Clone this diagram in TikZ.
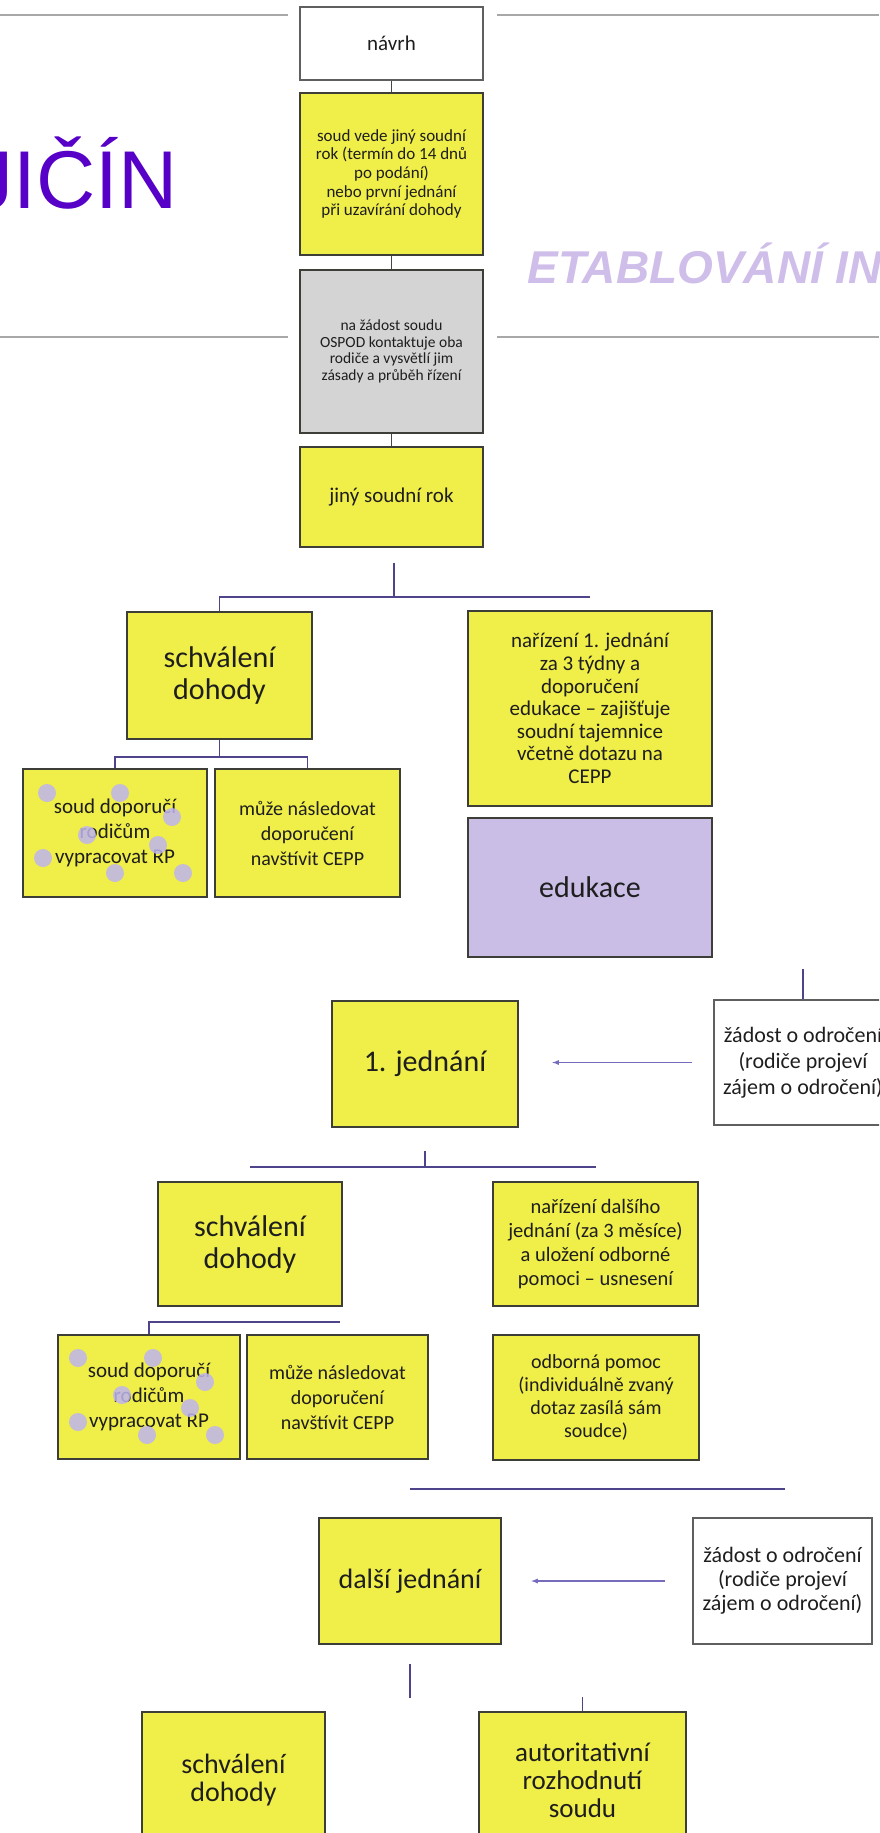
\documentclass[tikz,border=0pt]{standalone}
\usepackage{fontspec}
\setmainfont{Carlito}
\newfontfamily\headfont{Liberation Sans}
\usetikzlibrary{arrows}

\begin{document}
\begin{tikzpicture}[x=1pt,y=1pt,yscale=-1,xscale=1,
  box/.style={draw={rgb, 255:red, 62; green, 62; blue, 56 }, line width=2.4pt, align=center, inner sep=0pt, text={rgb, 255:red, 30; green, 30; blue, 30 }},
  ybox/.style={box, fill={rgb, 255:red, 240; green, 238; blue, 72 }},
  wbox/.style={box, fill=white, line width=1.4pt, draw={rgb, 255:red, 95; green, 95; blue, 95 }},
  gbox/.style={box, fill={rgb, 255:red, 212; green, 212; blue, 212 }},
  pbox/.style={box, fill={rgb, 255:red, 202; green, 190; blue, 230 }},
  size/.style 2 args={minimum width=#1pt, minimum height=#2pt},
  link/.style={draw={rgb, 255:red, 70; green, 70; blue, 70 }, line width=1.2pt},
  tree/.style={draw={rgb, 255:red, 78; green, 68; blue, 140 }, line width=1.6pt},
  pointer/.style={-latex, draw={rgb, 255:red, 118; green, 108; blue, 190 }, line width=1.3pt},
  rule/.style={draw={rgb, 255:red, 168; green, 168; blue, 168 }, line width=1.4pt},
  dot/.style={fill={rgb, 255:red, 190; green, 180; blue, 240 }, opacity=0.85}
]
\useasboundingbox (0,0) rectangle (879,1833);
\clip (0,0) rectangle (879,1833);

%Straight Lines
\draw[rule] (0,15) -- (288,15);
\draw[rule] (497,15) -- (879,15);
\draw[rule] (0,337) -- (288,337);
\draw[rule] (497,337) -- (879,337);

% Text Node
\node[anchor=base east, font=\headfont\fontsize{82}{82}\selectfont, text={rgb, 255:red, 86; green, 0; blue, 200 }] (town) at (181,208) {JIČÍN};
% Text Node
\node[anchor=base west, font=\headfont\fontsize{46}{46}\selectfont\bfseries\itshape, text={rgb, 255:red, 206; green, 190; blue, 233 }] (topic) at (524,283) {ETABLOVÁNÍ IN};

%Shape: Rectangle (central column)
\node[wbox, size={183}{73}, font=\fontsize{21}{24}\selectfont] (navrh) at (391.5,43.5) {návrh};
\node[ybox, size={183}{162}, font=\fontsize{17}{18.7}\selectfont] (soudrok) at (391.5,174) {soud vede jiný soudní\\rok (termín do 14 dnů\\po podání)\\nebo první jednání\\při uzavírání dohody};
\node[gbox, size={183}{163}, font=\fontsize{15.5}{16.7}\selectfont] (ospod) at (391.5,351.5) {na žádost soudu\\OSPOD kontaktuje oba\\rodiče a vysvětlí jim\\zásady a průběh řízení};
\node[ybox, size={183}{100}, font=\fontsize{21}{24}\selectfont] (jiny) at (391.5,497) {jiný soudní rok};

%Shape: Rectangle (after jiny soudni rok)
\node[ybox, size={185}{127}, font=\fontsize{30}{32}\selectfont] (schval1) at (219.5,675.5) {schválení\\dohody};
\node[ybox, size={244}{195}, font=\fontsize{21}{22.6}\selectfont] (nariz1) at (590,708.5) {nařízení 1. jednání\\za 3 týdny a\\doporučení\\edukace – zajišťuje\\soudní tajemnice\\včetně dotazu na\\CEPP};
\node[pbox, size={244}{139}, font=\fontsize{30}{32}\selectfont] (eduk) at (590,887.5) {edukace};
\node[ybox, size={184}{128}, font=\fontsize{21}{25}\selectfont] (soud1) at (115,833) {soud doporučí\\rodičům\\vypracovat RP};
\node[ybox, size={185}{128}, font=\fontsize{20}{25}\selectfont] (muze1) at (307.5,833) {může následovat\\doporučení\\navštívit CEPP};

%Shape: Rectangle (1. jednani)
\node[wbox, size={178}{125}, font=\fontsize{22}{26}\selectfont] (zadost1) at (803,1062.5) {žádost o odročení\\(rodiče projeví\\zájem o odročení)};
\node[ybox, size={186}{126}, font=\fontsize{30}{32}\selectfont] (jedn1) at (425,1064) {1. jednání};
\node[ybox, size={184}{124}, font=\fontsize{30}{32}\selectfont] (schval2) at (250,1244) {schválení\\dohody};
\node[ybox, size={205}{124}, font=\fontsize{20.5}{24}\selectfont] (nariz2) at (595.5,1244) {nařízení dalšího\\jednání (za 3 měsíce)\\a uložení odborné\\pomoci – usnesení};
\node[ybox, size={182}{124}, font=\fontsize{21}{25}\selectfont] (soud2) at (149,1397) {soud doporučí\\rodičům\\vypracovat RP};
\node[ybox, size={181}{124}, font=\fontsize{20}{25}\selectfont] (muze2) at (337.5,1397) {může následovat\\doporučení\\navštívit CEPP};
\node[ybox, size={206}{125}, font=\fontsize{20}{23}\selectfont] (odborna) at (596,1397.5) {odborná pomoc\\(individuálně zvaný\\dotaz zasílá sám\\soudce)};

%Shape: Rectangle (dalsi jednani)
\node[ybox, size={182}{126}, font=\fontsize{28}{32}\selectfont] (dalsi) at (410,1581) {další jednání};
\node[wbox, size={179}{126}, font=\fontsize{22}{24}\selectfont] (zadost2) at (782.5,1581) {žádost o odročení\\(rodiče projeví\\zájem o odročení)};
\node[ybox, size={183}{136}, font=\fontsize{28}{28}\selectfont] (schval3) at (233.5,1780) {schválení\\dohody};
\node[ybox, size={207}{136}, font=\fontsize{27}{28}\selectfont] (autor) at (582.5,1780) {autoritativní\\rozhodnutí\\soudu};

%Straight Lines (central column)
\draw[link] (navrh.south) -- (soudrok.north);
\draw[link] (soudrok.south) -- (ospod.north);
\draw[link] (ospod.south) -- (jiny.north);

%Straight Lines (tree)
\coordinate (fork1) at (394,597);
\draw[tree, shorten <=15pt] (jiny.south -| fork1) -- (fork1);
\draw[tree] (schval1.north) |- (fork1) -- (fork1 -| nariz1.north);
\coordinate (fork2) at (219.5,757);
\draw[tree] (schval1.south) -- (fork2);
\draw[tree] (soud1.north) |- (fork2) -| (muze1.north);

\draw[tree] (zadost1.north) -- ++(0,-30);
\draw[pointer, shorten <=21pt, shorten >=33pt] (zadost1.west) -- (zadost1.west -| jedn1.east);

\coordinate (fork3) at (425,1167);
\draw[tree, shorten <=23pt] (jedn1.south) -- (fork3);
\draw[tree] (fork3 -| schval2.north) -- (fork3 -| nariz2.north);
\coordinate (fork4) at (340,1322);
\draw[tree] (soud2.north) |- (fork4);

\coordinate (fork5) at (785,1489);
\draw[tree] (fork5 -| dalsi.north) -- (fork5);
\draw[pointer, shorten <=27pt, shorten >=29pt] (zadost2.west) -- (zadost2.west -| dalsi.east);
\draw[tree, shorten <=19pt] (dalsi.south) -- ++(0,53);
\draw[tree] (autor.north) -- ++(0,-14);

%Shape: Circle (dots)
\foreach \px/\py in {47/793, 120/793, 172/817, 87/835, 158/845, 43/858, 115/873, 183/873}
  \fill[dot] (\px,\py) circle (9);
\foreach \px/\py in {78/1358, 153/1358, 205/1382, 122/1395, 190/1408, 78/1422, 147/1435, 215/1435}
  \fill[dot] (\px,\py) circle (9);

\end{tikzpicture}
\end{document}
